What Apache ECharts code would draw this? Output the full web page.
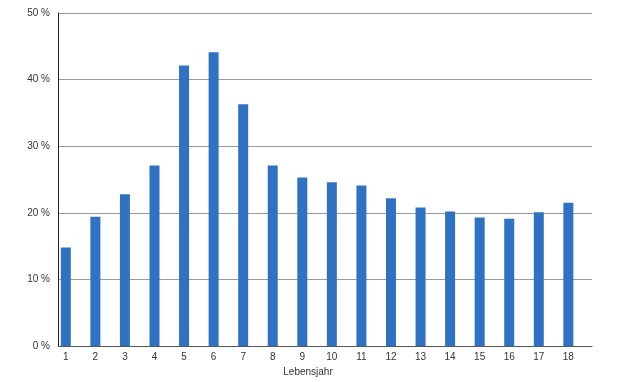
<!DOCTYPE html>
<html>
<head>
<meta charset="utf-8">
<script src="https://cdn.jsdelivr.net/npm/echarts@6/dist/echarts.min.js"></script>
<style>html,body{margin:0;padding:0;background:#fff}#c{width:643px;height:382px}</style>
</head>
<body>
<div id="c"></div>
<script>
const categories = [1,2,3,4,5,6,7,8,9,10,11,12,13,14,15,16,17,18];
const values = [14.8,19.4,22.8,27.1,42.1,44.1,36.3,27.1,25.3,24.6,24.1,22.2,20.8,20.2,19.3,19.1,20.1,21.5];
const yTicks = [0,10,20,30,40,50];

const chart = echarts.init(document.getElementById('c'), null, {renderer:'canvas'});
chart.setOption({
  animation:false,
  backgroundColor:'#fff',
  grid:{left:58,right:51,top:13,bottom:36},
  xAxis:{
    type:'value', min:0.736, max:18.8,
    name:'Lebensjahr', nameLocation:'middle', nameGap:20,
    nameTextStyle:{color:'#333',fontSize:10,fontFamily:'Liberation Sans',padding:[0,34,0,0]},
    axisLine:{show:true,lineStyle:{color:'#555',width:1}},
    axisTick:{show:false},
    splitLine:{show:false},
    axisLabel:{customValues:categories,color:'#333',fontSize:10,fontFamily:'Liberation Sans',margin:6}
  },
  yAxis:{
    type:'value', min:0, max:50, interval:10,
    axisLine:{show:true,lineStyle:{color:'#222',width:1}},
    axisTick:{show:false},
    splitLine:{show:true,lineStyle:{color:'#9a9a9a',width:1}},
    axisLabel:{customValues:yTicks,formatter:'{value} %',color:'#333',fontSize:10,fontFamily:'Liberation Sans',margin:8}
  },
  series:[{
    type:'bar',
    barWidth:10,
    itemStyle:{color:'#2f72c2'},
    data:categories.map((c,i)=>[c,values[i]])
  }]
});
</script>
</body>
</html>
